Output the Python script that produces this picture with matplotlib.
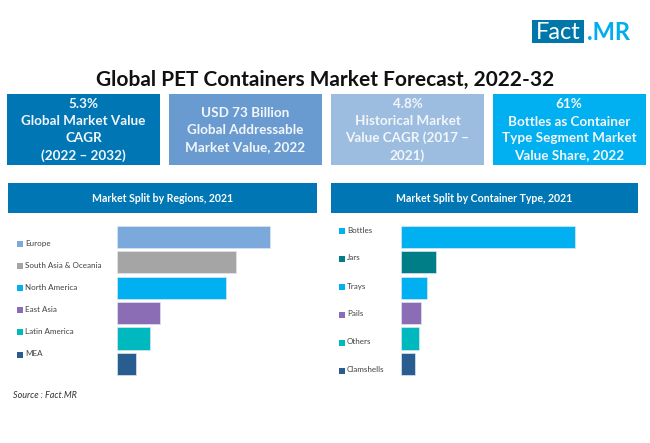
import matplotlib
matplotlib.use("Agg")
import matplotlib.pyplot as plt
from matplotlib.patches import Rectangle

plt.rcParams["font.family"] = ["Lato", "DejaVu Sans"]

W, H = 650, 443

title = "Global PET Containers Market Forecast, 2022-32"
source = "Source : Fact.MR"

box_texts = [
    "5.3%\nGlobal Market Value\nCAGR\n(2022 – 2032)",
    "USD 73 Billion\nGlobal Addressable\nMarket Value, 2022",
    "4.8%\nHistorical Market\nValue CAGR (2017 –\n2021)",
    "61%\nBottles as Container\nType Segment Market\nValue Share, 2022",
]
box_colors = ["#0077B4", "#6A9BD0", "#9CBDE0", "#00B0F0"]

region_title = "Market Split by Regions, 2021"
regions = ["Europe", "South Asia & Oceania", "North America", "East Asia", "Latin America", "MEA"]
region_share = [32.1, 25.0, 22.9, 9.0, 6.9, 4.0]
region_colors = ["#7BA9DB", "#A5A5A5", "#00B0F0", "#8A6DB5", "#00B9BE", "#2A5D8F"]

type_title = "Market Split by Container Type, 2021"
types = ["Bottles", "Jars", "Trays", "Pails", "Others", "Clamshells"]
type_share = [61.0, 12.3, 9.1, 7.0, 6.3, 5.0]
type_colors = ["#00B0F0", "#007E87", "#00B0F0", "#8A6DB5", "#00B9BE", "#2A5D8F"]

fig = plt.figure(figsize=(W / 100, H / 100), dpi=100, facecolor="white")

# overlay in pixel coordinates for boxes, headers and text
bg = fig.add_axes([0, 0, 1, 1])
bg.set_xlim(0, W)
bg.set_ylim(H, 0)
bg.axis("off")


def bar_panel(x0, y0, width, height, values, colors, xmax):
    ax = fig.add_axes([x0 / W, 1 - (y0 + height) / H, width / W, height / H])
    ypos = range(len(values))
    ax.barh(ypos, values, height=0.875, color=colors, edgecolor="#DCE6F0", linewidth=0.5)
    ax.set_xlim(0, xmax)
    ax.set_ylim(len(values) - 0.5, -0.5)
    ax.axis("off")
    ax.patch.set_alpha(0)
    return ax


def legend_column(x, y_first, step, labels, colors):
    for i, (label, color) in enumerate(zip(labels, colors)):
        y = y_first + i * step
        bg.scatter([x], [y + 0.5], marker="s", s=14, color=color, linewidths=0)
        bg.text(x + 5, y, label, fontsize=5.8, color="#404040", va="center", ha="left")


# logo
bg.add_patch(Rectangle((532, 20), 52, 23, color="#0077A8", lw=0))
bg.text(558, 32, "Fact", fontsize=17, color="white", ha="center", va="center")
bg.text(608, 32, ".MR", fontsize=17, color="#00AEEF", ha="center", va="center", fontweight="bold")

bg.text(325, 80, title, fontsize=15.05, fontweight="bold", color="#111111", ha="center", va="center")

# headline boxes
box_x = [7, 169, 331, 492.5]
for x, text, color in zip(box_x, box_texts, box_colors):
    bg.add_patch(Rectangle((x, 93.5), 153, 71.5, color=color, lw=0))
    bg.text(x + 76.5, 130, text, fontsize=9.7, fontweight="bold", color="#F2F6FA",
            ha="center", va="center", linespacing=1.5)

# section headers
for x, w, text in [(8, 309, region_title), (331, 307, type_title)]:
    bg.add_patch(Rectangle((x, 183), w, 30, color="#0077B4", lw=0))
    bg.text(x + w / 2, 198, text, fontsize=7.6, fontweight="bold", color="white",
            ha="center", va="center")

bar_panel(117, 224.2, 200, 152.4, region_share, region_colors, 200 * 32.1 / 153)
bar_panel(401, 224.2, 200, 152.4, type_share, type_colors, 200 * 61 / 174)

legend_column(20, 243, 22.2, regions, region_colors)
legend_column(342, 230, 28, types, type_colors)

bg.text(13, 395.5, source, fontsize=6.5, fontstyle="italic", color="#333333", ha="left", va="center")

fig.savefig("out.png", dpi=100)
